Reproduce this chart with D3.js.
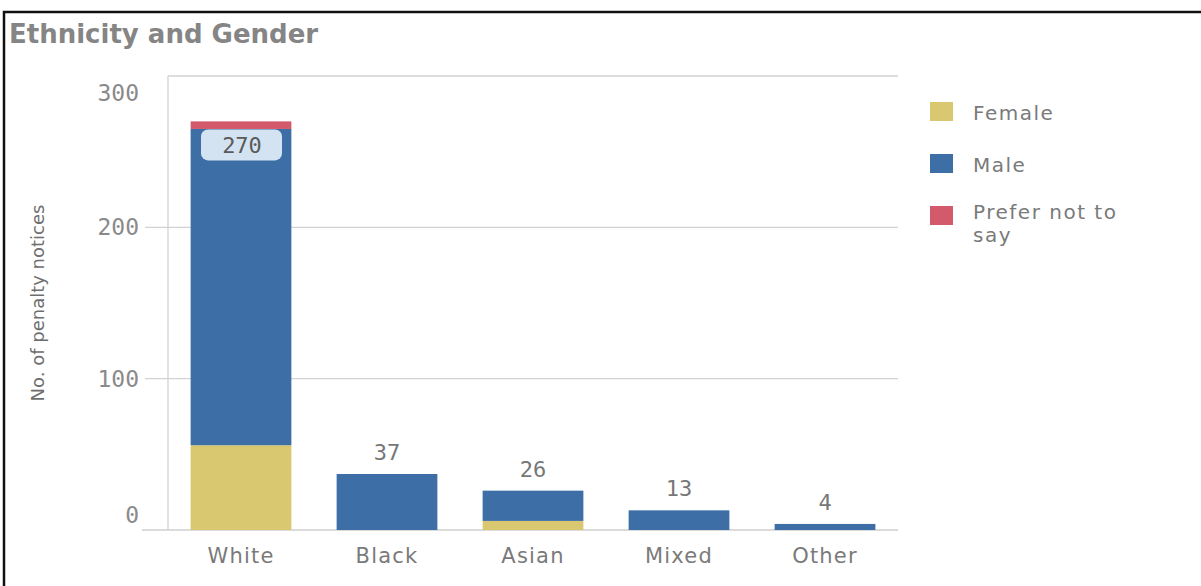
<!DOCTYPE html>
<html>
<head>
<meta charset="utf-8">
<script src="https://cdn.jsdelivr.net/npm/d3@7"></script>
<style>
  body { margin: 0; background: #fff; }
  text { font-family: "DejaVu Sans", sans-serif; }
  .mono { font-family: "DejaVu Sans Mono", monospace; }
</style>
</head>
<body>
<svg id="mainSvg" width="1201" height="586"></svg>
<script>
// data
let categories = ['White', 'Black', 'Asian', 'Mixed', 'Other']
let seriesNames = ['Female', 'Male', 'Prefer not to say']
let female = [56, 0, 6, 0, 0]
let male = [209, 37, 20, 13, 4]
let preferNot = [5, 0, 0, 0, 0]
let yTicks = [0, 100, 200, 300]

let colors = ['#dac870', '#3d6fa6', '#d25a6b']

let svg = d3.select('#mainSvg')

// frame (only top and left edge visible in the crop)
svg.append('path')
    .attr('d', 'M4 586 L4 12 L1201 12')
    .attr('fill', 'none')
    .attr('stroke', '#111')
    .attr('stroke-width', 2.5)

svg.append('text')
    .attr('x', 9)
    .attr('y', 43)
    .attr('font-size', 26)
    .attr('font-weight', 'bold')
    .attr('fill', '#858585')
    .text('Ethnicity and Gender')

let x = d3.scaleBand()
    .domain(categories)
    .range([168, 898])
    .paddingInner(0.31)
    .paddingOuter(0.155)

let y = d3.scaleLinear()
    .domain([0, 300])
    .range([530, 76])

// grid
svg.append('g')
    .selectAll('line')
    .data(yTicks.filter(d => d > 0))
    .enter()
    .append('line')
    .attr('x1', d => d === 300 ? 168 : 145)
    .attr('x2', 898)
    .attr('y1', d => y(d))
    .attr('y2', d => y(d))
    .attr('stroke', '#d2d2d2')
    .attr('stroke-width', 1.3)

svg.append('line')
    .attr('x1', 168).attr('x2', 168)
    .attr('y1', y(300)).attr('y2', y(0))
    .attr('stroke', '#d2d2d2')
    .attr('stroke-width', 1.3)

svg.append('line')
    .attr('x1', 142).attr('x2', 898)
    .attr('y1', y(0)).attr('y2', y(0))
    .attr('stroke', '#cfcfcf')
    .attr('stroke-width', 1.3)

// y tick labels, clamped inside the axis like the original
svg.append('g')
    .selectAll('text')
    .data(yTicks)
    .enter()
    .append('text')
    .attr('class', 'mono')
    .attr('x', 139)
    .attr('y', d => {
        if (d === 300) return y(d) + 25
        if (d === 0) return y(d) - 7
        return y(d) + 8
    })
    .attr('text-anchor', 'end')
    .attr('font-size', 23)
    .attr('fill', '#8a8a8a')
    .text(d => d)

svg.append('text')
    .attr('transform', 'translate(44, 303) rotate(-90)')
    .attr('text-anchor', 'middle')
    .attr('font-size', 18)
    .attr('fill', '#6e6e6e')
    .text('No. of penalty notices')

// stacked bars
let rows = categories.map((c, i) => ({
    cat: c,
    Female: female[i],
    Male: male[i],
    'Prefer not to say': preferNot[i]
}))
let stacked = d3.stack().keys(seriesNames)(rows)

svg.append('g')
    .selectAll('g')
    .data(stacked)
    .enter()
    .append('g')
    .attr('fill', (d, i) => colors[i])
    .selectAll('rect')
    .data(d => d)
    .enter()
    .append('rect')
    .attr('x', d => x(d.data.cat))
    .attr('width', x.bandwidth())
    .attr('y', d => y(d[1]))
    .attr('height', d => y(d[0]) - y(d[1]))

// totals
let totals = categories.map((c, i) => female[i] + male[i] + preferNot[i])

totals.forEach((t, i) => {
    let cx = x(categories[i]) + x.bandwidth() / 2
    let top = y(t)
    if (top < y(220)) {
        svg.append('rect')
            .attr('x', cx - 40)
            .attr('y', top + 8)
            .attr('width', 81)
            .attr('height', 31)
            .attr('rx', 7)
            .attr('fill', '#d3e3f2')
        svg.append('text')
            .attr('class', 'mono')
            .attr('x', cx + 1)
            .attr('y', top + 32)
            .attr('text-anchor', 'middle')
            .attr('font-size', 22)
            .attr('fill', '#5a5a5a')
            .text(t)
    } else {
        svg.append('text')
            .attr('class', 'mono')
            .attr('x', cx)
            .attr('y', top - 14)
            .attr('text-anchor', 'middle')
            .attr('font-size', 22)
            .attr('fill', '#777')
            .text(t)
    }
})

// x labels
svg.append('g')
    .selectAll('text')
    .data(categories)
    .enter()
    .append('text')
    .attr('x', d => x(d) + x.bandwidth() / 2)
    .attr('y', 563)
    .attr('text-anchor', 'middle')
    .attr('font-size', 21)
    .attr('letter-spacing', 1.2)
    .attr('fill', '#7a7a7a')
    .text(d => d)

// legend
let legendLines = [['Female'], ['Male'], ['Prefer not to', 'say']]
let lg = svg.append('g')
legendLines.forEach((lines, i) => {
    let top = 102 + i * 52
    lg.append('rect')
        .attr('x', 930)
        .attr('y', top)
        .attr('width', 23)
        .attr('height', 19)
        .attr('fill', colors[i])
    lines.forEach((ln, j) => {
        lg.append('text')
            .attr('x', 973)
            .attr('y', (lines.length > 1 ? top + 13 : top + 18) + j * 23)
            .attr('font-size', 20)
            .attr('letter-spacing', 1.5)
            .attr('fill', '#7a7a7a')
            .text(ln)
    })
})
</script>
</body>
</html>
